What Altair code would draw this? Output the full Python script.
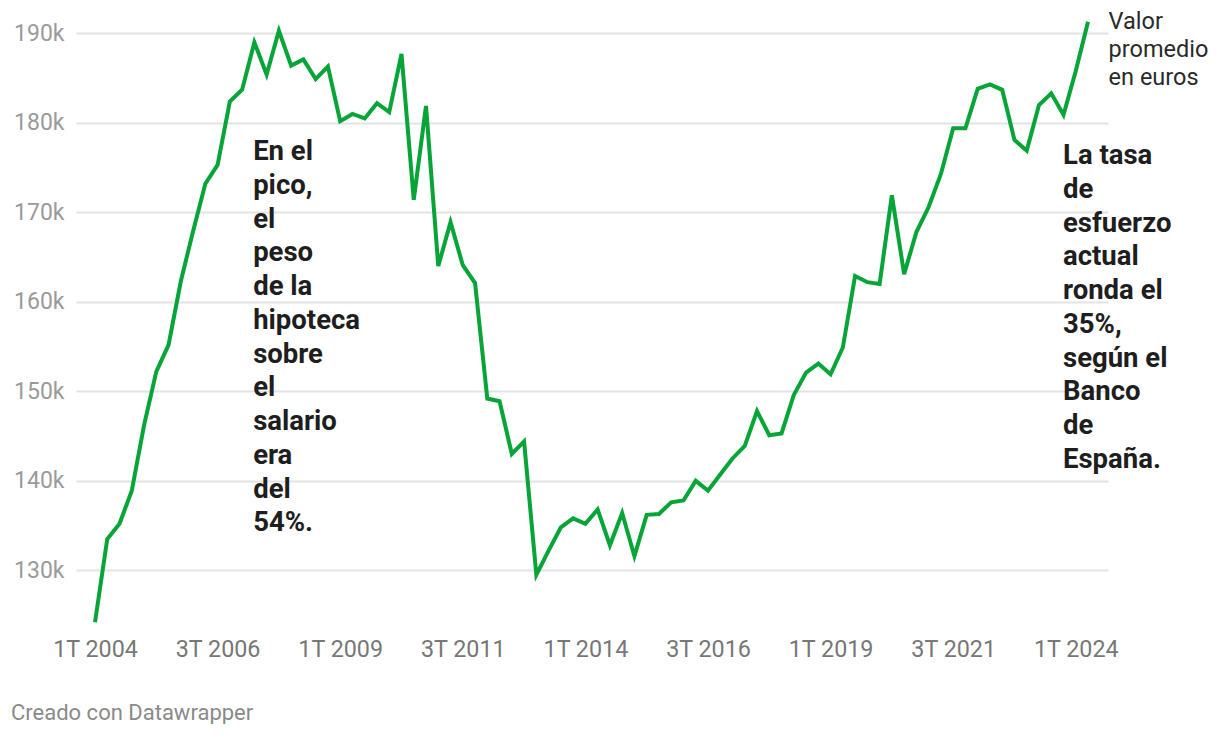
import altair as alt
import pandas as pd

# Quarterly average value (thousands of euros), 1T 2004 .. 2T 2024
values_k = [
    124.2, 133.5, 135.2, 138.9, 146.2, 152.2, 155.2, 162.3, 167.9, 173.2,
    175.3, 182.4, 183.7, 189.0, 185.4, 190.3, 186.4, 187.1, 184.9, 186.3,
    180.2, 181.0, 180.5, 182.2, 181.2, 187.7, 171.4, 181.9, 164.0, 168.9,
    164.1, 162.1, 149.2, 148.9, 143.0, 144.4, 129.5, 132.2, 134.8, 135.8,
    135.2, 136.8, 132.8, 136.4, 131.6, 136.2, 136.3, 137.6, 137.8, 140.0,
    138.9, 140.7, 142.5, 143.9, 147.8, 145.1, 145.3, 149.6, 152.1, 153.1,
    151.9, 154.9, 162.9, 162.2, 162.0, 171.9, 163.1, 167.8, 170.6, 174.3,
    179.4, 179.4, 183.8, 184.3, 183.7, 178.1, 176.9, 182.0, 183.3, 180.9,
    185.8, 191.3,
]
first_year = 2004
quarters = [f"{i % 4 + 1}T {first_year + i // 4}" for i in range(len(values_k))]
x_tick_idx = [0, 10, 20, 30, 40, 50, 60, 70, 80]
y_ticks = [130, 140, 150, 160, 170, 180, 190]

df = pd.DataFrame({"idx": list(range(len(values_k))), "quarter": quarters, "value": values_k})

notes = pd.DataFrame({
    "idx": [12.9, 78.96],
    "value": [175.85, 175.4],
    "text": [
        ["En el", "pico,", "el", "peso", "de la", "hipoteca", "sobre", "el", "salario", "era", "del", "54%."],
        ["La tasa", "de", "esfuerzo", "actual", "ronda el", "35%,", "según el", "Banco", "de", "España."],
    ],
})
series_label = pd.DataFrame({"idx": [82.68], "value": [190.46],
                             "text": [["Valor", "promedio", "en euros"]]})

FONT = "Roboto"
W, H = 1032, 604
x_scale = alt.Scale(domain=[-1.55, 82.63], nice=False, zero=False)
y_scale = alt.Scale(domain=[124, 191.5], nice=False, zero=False)

x_enc = alt.X("idx:Q", scale=x_scale, axis=alt.Axis(
    values=x_tick_idx, grid=False, ticks=False, tickSize=0, domain=False, title=None,
    labelExpr="(datum.value % 4 + 1) + 'T ' + (2004 + floor(datum.value / 4))",
    labelFont=FONT, labelFontSize=23.3, labelColor="#777777",
    labelBaseline="alphabetic", labelPadding=32, labelFlush=False, labelOverlap=False))
y_enc = alt.Y("value:Q", scale=y_scale, axis=alt.Axis(
    values=y_ticks, grid=True, gridColor="#e3e3e3", gridWidth=2,
    ticks=False, tickSize=0, domain=False, title=None,
    labelExpr="datum.value + 'k'", labelFont=FONT, labelFontSize=23,
    labelColor="#9a9a9a", labelPadding=12, labelBaseline="middle", labelOverlap=False))

line = alt.Chart(df).mark_line(color="#07a537", strokeWidth=4, clip=False).encode(
    x=x_enc, y=y_enc)

note_text = alt.Chart(notes).mark_text(
    font=FONT, fontSize=27.5, fontWeight="bold", color="#1e1e1e",
    align="left", baseline="alphabetic", lineHeight=33.75
).encode(x=alt.X("idx:Q", scale=x_scale), y=alt.Y("value:Q", scale=y_scale), text="text")

label_text = alt.Chart(series_label).mark_text(
    font=FONT, fontSize=23.5, color="#2a2a2a",
    align="left", baseline="alphabetic", lineHeight=28
).encode(x=alt.X("idx:Q", scale=x_scale), y=alt.Y("value:Q", scale=y_scale), text="text")

footer = alt.Chart(pd.DataFrame({"t": ["Creado con Datawrapper"]})).mark_text(
    font=FONT, fontSize=22, color="#8a8a8a", align="left", baseline="alphabetic"
).encode(x=alt.value(-65), y=alt.value(699.5), text="t:N")

chart = alt.layer(line, note_text, label_text, footer).properties(
    width=W, height=H,
    autosize=alt.AutoSizeParams(type="none"),
    padding={"left": 68, "top": 12, "right": 102, "bottom": 100},
).configure_view(stroke="transparent", strokeWidth=0)

chart.save("out.html", embed_options={"renderer": "svg", "actions": False})
